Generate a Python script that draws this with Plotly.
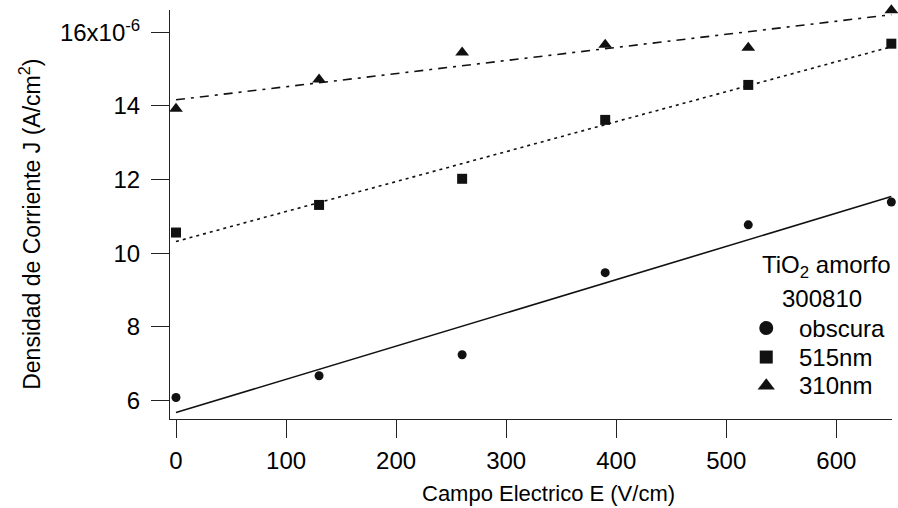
import numpy as np
import plotly.graph_objects as go

# Electric field (V/cm)
campo = [0, 130, 260, 390, 520, 650]

# Current density (units of 1e-6 A/cm^2)
j_obscura = [6.08, 6.67, 7.24, 9.47, 10.77, 11.39]
j_515nm = [10.56, 11.31, 12.02, 13.62, 14.57, 15.69]
j_310nm = [13.92, 14.72, 15.45, 15.66, 15.58, 16.60]

series_names = ["obscura", "515nm", "310nm"]
legend_header = ["TiO<sub>2</sub> amorfo", "300810"]
y_ticks = [6, 8, 10, 12, 14, 16]
y_ticktext = ["6", "8", "10", "12", "14", "16x10<sup>-6</sup>"]
x_ticks = [0, 100, 200, 300, 400, 500, 600]

FONT = "Arial, Liberation Sans, sans-serif"
INK = "#111111"

# plot-area box in pixels (left, right, top, bottom)
L, R, T, B = 170, 891.7, 10, 419.3

series = [
    (series_names[0], j_obscura, "circle", 9, 14, "solid"),
    (series_names[1], j_515nm, "square", 10, 13, "3px,4px"),
    (series_names[2], j_310nm, "triangle-up", 12, 15, "9px,6px,3px,6px"),
]

fig = go.Figure()

x_arr = np.array(campo, dtype=float)
x_fit = np.array([x_arr.min(), x_arr.max()])
for name, ys, symbol, size, lsize, dash in series:
    # least-squares linear fit for each illumination condition
    slope, intercept = np.polyfit(x_arr, np.array(ys), 1)
    fig.add_trace(go.Scatter(
        x=x_fit, y=slope * x_fit + intercept, mode="lines",
        line=dict(color=INK, width=1.6, dash=dash),
        showlegend=False, hoverinfo="skip", cliponaxis=False,
    ))

for name, ys, symbol, size, lsize, dash in series:
    fig.add_trace(go.Scatter(
        x=campo, y=ys, mode="markers", name=name, showlegend=False,
        marker=dict(symbol=symbol, size=size, color=INK, line=dict(width=0)),
        cliponaxis=False,
    ))

# key: symbols on a pixel-space overlay axis, labels as annotations
key_x = 766
key_rows = [328.3, 357.3, 386.0]
for (name, ys, symbol, size, lsize, dash), ky in zip(series, key_rows):
    fig.add_trace(go.Scatter(
        x=[key_x], y=[ky], xaxis="x2", yaxis="y2", mode="markers",
        marker=dict(symbol=symbol, size=lsize, color=INK, line=dict(width=0)),
        showlegend=False, hoverinfo="skip", cliponaxis=False,
    ))

axis_common = dict(
    showgrid=False, zeroline=False, showline=True, linecolor="#222222",
    linewidth=1, ticks="outside", ticklen=18, tickwidth=1, tickcolor="#222222",
    tickfont=dict(family=FONT, size=24, color="#000000"), mirror=False,
)

fig.update_xaxes(range=[-5.45, 650.6], tickvals=x_ticks, ticklabelstandoff=2,
                 **axis_common)
fig.update_yaxes(range=[5.495, 16.605], tickvals=y_ticks, ticktext=y_ticktext,
                 ticklabelstandoff=6, **axis_common)

annotations = [
    dict(text="Campo Electrico E (V/cm)", xref="paper", yref="paper",
         x=(548.8 - L) / (R - L), y=-(494 - B) / (B - T),
         xanchor="center", yanchor="middle", showarrow=False,
         font=dict(family=FONT, size=22, color="#000000")),
    dict(text="Densidad de Corriente J (A/cm<sup>2</sup>)", xref="paper",
         yref="paper", x=-(L - 30) / (R - L), y=(B - 224) / (B - T),
         xanchor="center", yanchor="middle", textangle=-90, showarrow=False,
         font=dict(family=FONT, size=23, color="#000000")),
    dict(text=legend_header[0], xref="x2", yref="y2", x=826, y=267,
         xanchor="center", yanchor="middle", showarrow=False,
         font=dict(family=FONT, size=24, color="#000000")),
    dict(text=legend_header[1], xref="x2", yref="y2", x=822, y=299,
         xanchor="center", yanchor="middle", showarrow=False,
         font=dict(family=FONT, size=24, color="#000000")),
]
for name, ky in zip(series_names, key_rows):
    annotations.append(dict(
        text=name, xref="x2", yref="y2", x=797, y=ky,
        xanchor="left", yanchor="middle", showarrow=False,
        font=dict(family=FONT, size=24, color="#000000")))

fig.update_layout(
    width=898, height=508,
    margin=dict(l=L, r=898 - R, t=T, b=508 - B),
    plot_bgcolor="white", paper_bgcolor="white",
    font=dict(family=FONT, size=22, color="#000000"),
    showlegend=False,
    xaxis2=dict(overlaying="x", range=[L, R], visible=False, fixedrange=True),
    yaxis2=dict(overlaying="y", range=[B, T], visible=False, fixedrange=True),
    annotations=annotations,
)

fig.write_html("out.html")
